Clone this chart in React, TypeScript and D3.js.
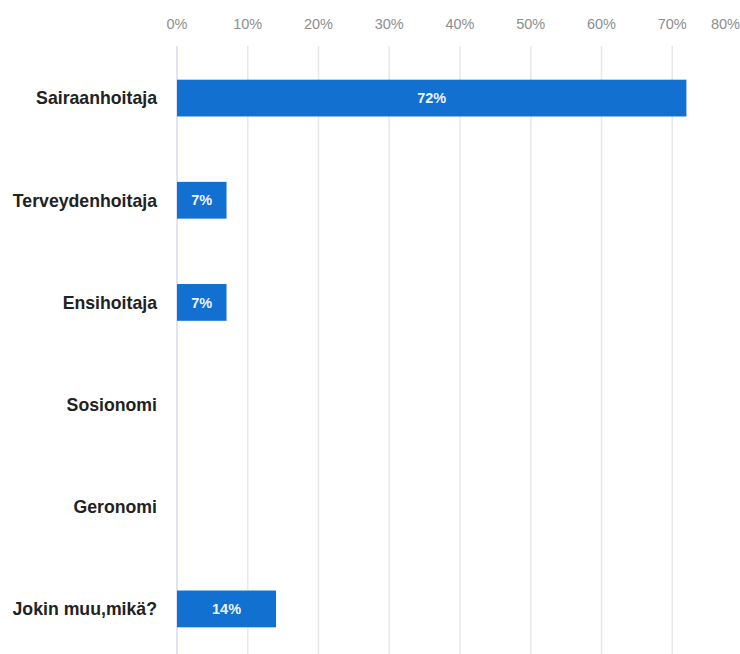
import * as d3 from 'd3'
import { useEffect, useRef } from 'react'

const categories = [
  'Sairaanhoitaja',
  'Terveydenhoitaja',
  'Ensihoitaja',
  'Sosionomi',
  'Geronomi',
  'Jokin muu,mikä?',
]
const values = [72, 7, 7, 0, 0, 14]
const ticks = [0, 10, 20, 30, 40, 50, 60, 70, 80]

const width = 740
const height = 654
const marginLeft = 177
const marginTop = 47
const font = '"Liberation Sans", Arial, sans-serif'

export default function App() {
  const ref = useRef(null)

  useEffect(() => {
    const svg = d3.select(ref.current)
    svg.selectAll('*').remove()

    const x = d3.scaleLinear([0, 80], [marginLeft, 743])
    const y = d3
      .scaleBand(categories, [marginTop, 660])
      .paddingInner(0.64)
      .paddingOuter(0.32)

    // grid lines, the 0% one is the axis and a bit bluish
    svg
      .append('g')
      .selectAll('line')
      .data(ticks)
      .join('line')
      .attr('x1', d => x(d))
      .attr('x2', d => x(d))
      .attr('y1', marginTop - 1)
      .attr('y2', height)
      .attr('stroke', d => (d === 0 ? '#d5daf0' : '#e8e8ea'))
      .attr('stroke-width', 1.5)

    // tick labels on top, last one is pushed inside the picture
    svg
      .append('g')
      .selectAll('text')
      .data(ticks)
      .join('text')
      .attr('x', d => (x(d) > width - 20 ? width : x(d)))
      .attr('y', 29)
      .attr('text-anchor', d => (x(d) > width - 20 ? 'end' : 'middle'))
      .attr('font-family', font)
      .attr('font-size', 14.5)
      .attr('fill', '#8e8e8e')
      .text(d => `${d}%`)

    const data = categories.map((c, i) => ({ c, v: values[i] }))

    svg
      .append('g')
      .selectAll('rect')
      .data(data.filter(d => d.v > 0))
      .join('rect')
      .attr('x', x(0))
      .attr('y', d => y(d.c)!)
      .attr('width', d => x(d.v) - x(0))
      .attr('height', y.bandwidth())
      .attr('fill', '#1170d0')

    svg
      .append('g')
      .selectAll('text')
      .data(data.filter(d => d.v > 0))
      .join('text')
      .attr('x', d => (x(0) + x(d.v)) / 2)
      .attr('y', d => y(d.c)! + y.bandwidth() / 2)
      .attr('dy', '0.36em')
      .attr('text-anchor', 'middle')
      .attr('font-family', font)
      .attr('font-size', 14.5)
      .attr('font-weight', 'bold')
      .attr('fill', '#eef3fb')
      .text(d => `${d.v}%`)

    // category labels
    svg
      .append('g')
      .selectAll('text')
      .data(categories)
      .join('text')
      .attr('x', marginLeft - 20)
      .attr('y', d => y(d)! + y.bandwidth() / 2)
      .attr('dy', '0.36em')
      .attr('text-anchor', 'end')
      .attr('font-family', font)
      .attr('font-size', 17.7)
      .attr('font-weight', 'bold')
      .attr('fill', '#222')
      .text(d => d)
  }, [])

  return (
    <svg
      ref={ref}
      width={width}
      height={height}
      viewBox={`0 0 ${width} ${height}`}
      style={{ position: 'absolute', left: 0, top: 0, background: '#fff' }}
    ></svg>
  )
}
